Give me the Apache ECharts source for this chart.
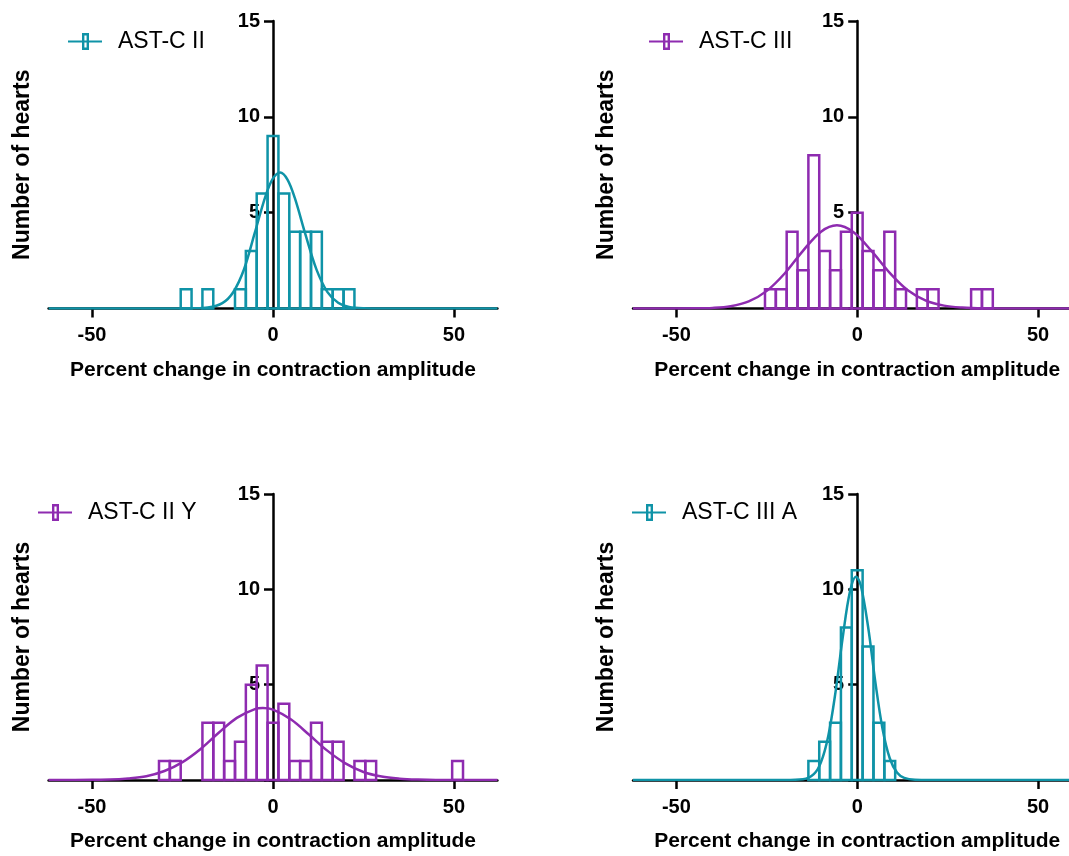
<!DOCTYPE html>
<html>
<head>
<meta charset="utf-8">
<script src="https://cdn.jsdelivr.net/npm/echarts@6/dist/echarts.min.js"></script>
<style>
  html, body { margin: 0; padding: 0; background: #fff; }
  #chart { width: 1069px; height: 856px; }
</style>
</head>
<body>
<div id="chart"></div>
<script>
const TEAL = '#0f93a7';
const PURPLE = '#8e2bb0';
const FONT = 'Liberation Sans, Arial, Helvetica, sans-serif';

const groupNames = ['AST-C II', 'AST-C III', 'AST-C II Y', 'AST-C III A'];
const groupColors = [TEAL, PURPLE, PURPLE, TEAL];
const binWidth = 3;
const xTicks = [-50, 0, 50];

// histogram bins (bin centre) and counts
const astC2Bins = [-24, -18, -9, -6, -3, 0, 3, 6, 9, 12, 15, 18, 21];
const astC2Counts = [1, 1, 1, 3, 6, 9, 6, 4, 4, 4, 1, 1, 1];

const astC3Bins = [-24, -21, -18, -15, -12, -9, -6, -3, 0, 3, 6, 9, 12, 18, 21, 33, 36];
const astC3Counts = [1, 1, 4, 2, 8, 3, 2, 4, 5, 3, 2, 4, 1, 1, 1, 1, 1];

const astC2YBins = [-30, -27, -18, -15, -12, -9, -6, -3, 0, 3, 6, 9, 12, 15, 18, 24, 27, 51];
const astC2YCounts = [1, 1, 3, 3, 1, 2, 5, 6, 3, 4, 1, 1, 3, 2, 2, 1, 1, 1];

const astC3ABins = [-12, -9, -6, -3, 0, 3, 6, 9];
const astC3ACounts = [1, 2, 3, 8, 11, 7, 3, 1];

// Gaussian fit curves
const astC2FitX = [-62, -30, -22, -18, -14, -11, -8, -5, -2, 0, 2, 4, 6, 9, 12, 15, 18, 21, 25, 30, 62];
const astC2FitY = [0, 0, 0.01, 0.05, 0.28, 0.85, 2.05, 3.97, 5.9, 6.79, 7.1, 6.73, 5.78, 3.84, 2.04, 0.87, 0.3, 0.08, 0.01, 0, 0];

const astC3FitX = [-62, -45, -40, -35, -30, -25, -20, -15, -10, -5.6, -1, 4, 9, 14, 19, 24, 29, 35, 45, 62];
const astC3FitY = [0, 0.01, 0.03, 0.12, 0.37, 0.92, 1.84, 3.01, 4.01, 4.34, 3.98, 2.99, 1.86, 0.95, 0.41, 0.15, 0.05, 0.01, 0, 0];

const astC2YFitX = [-62, -50, -45, -40, -35, -30, -25, -20, -15, -10, -5, -2.8, 0, 5, 10, 15, 20, 25, 30, 35, 40, 45, 62];
const astC2YFitY = [0, 0.01, 0.02, 0.08, 0.2, 0.47, 0.94, 1.63, 2.48, 3.26, 3.72, 3.77, 3.69, 3.17, 2.37, 1.54, 0.87, 0.42, 0.18, 0.07, 0.02, 0, 0];

const astC3AFitX = [-62, -20, -15, -12, -10, -8, -6, -4, -2, -0.3, 1, 3, 5, 7, 9, 11, 13, 16, 20, 62];
const astC3AFitY = [0, 0, 0.04, 0.31, 0.94, 2.31, 4.61, 7.48, 9.89, 10.66, 10.2, 8.05, 5.16, 2.69, 1.14, 0.39, 0.11, 0.01, 0, 0];

const binSets = [
  [astC2Bins, astC2Counts],
  [astC3Bins, astC3Counts],
  [astC2YBins, astC2YCounts],
  [astC3ABins, astC3ACounts]
];
const fitSets = [
  [astC2FitX, astC2FitY],
  [astC3FitX, astC3FitY],
  [astC2YFitX, astC2YFitY],
  [astC3AFitX, astC3AFitY]
];

const grids = [
  { left: 48.6, top: 21, width: 448.8, height: 287.5 },
  { left: 633, top: 21, width: 448.4, height: 287.5 },
  { left: 48.6, top: 494, width: 448.8, height: 286 },
  { left: 633, top: 494, width: 448.4, height: 286 }
];
const legendPos = [
  { left: 63, top: 25 },
  { left: 644, top: 25 },
  { left: 33, top: 496 },
  { left: 627, top: 496 }
];

// line with an open box in the middle, like the bar legend glyph
const LEGEND_ICON = 'path://M0 7.6L34 7.6L34 9.4L0 9.4Z M14 0L21 0L21 17L14 17Z M16.4 2.4L16.4 14.6L18.6 14.6L18.6 2.4Z';

const axisLine = { color: '#000', width: 2.5 };

function barRenderer(color) {
  return function (params, api) {
    const x = api.value(0);
    const n = api.value(1);
    const p0 = api.coord([x - binWidth / 2, n]);
    const p1 = api.coord([x + binWidth / 2, 0]);
    return {
      type: 'rect',
      shape: { x: p0[0], y: p0[1], width: p1[0] - p0[0], height: p1[1] - p0[1] },
      style: { fill: 'none', stroke: color, lineWidth: 2.5 }
    };
  };
}

const xAxes = [], yAxes = [], series = [], legends = [];
groupNames.forEach((name, i) => {
  const color = groupColors[i];
  xAxes.push({
    gridIndex: i, type: 'value', min: -62, max: 62,
    axisLine: { show: true, onZero: false, lineStyle: axisLine },
    axisTick: { show: true, length: 9, lineStyle: axisLine, customValues: xTicks },
    axisLabel: { customValues: xTicks, fontSize: 20, fontWeight: 'bold', color: '#000', margin: 17, fontFamily: FONT },
    splitLine: { show: false },
    name: 'Percent change in contraction amplitude',
    nameLocation: 'middle', nameGap: 51,
    nameTextStyle: { fontSize: 21, fontWeight: 'bold', color: '#000', fontFamily: FONT }
  });
  // y axis sits at x = 0, i.e. the middle of the symmetric x range
  yAxes.push({
    gridIndex: i, type: 'value', min: 0, max: 15, interval: 5,
    position: 'left', offset: -grids[i].width / 2,
    axisLine: { show: true, onZero: false, lineStyle: axisLine },
    axisTick: { show: true, length: 9, lineStyle: axisLine },
    axisLabel: {
      formatter: v => (v === 0 ? '' : String(v)),
      fontSize: 20, fontWeight: 'bold', color: '#000', margin: 13, fontFamily: FONT
    },
    splitLine: { show: false },
    name: 'Number of hearts',
    nameLocation: 'middle', nameGap: 239,
    nameTextStyle: { fontSize: 23, fontWeight: 'bold', color: '#000', fontFamily: FONT }
  });
  const [bins, counts] = binSets[i];
  series.push({
    name: name, type: 'custom', xAxisIndex: i, yAxisIndex: i, z: 2,
    itemStyle: { color: color },
    renderItem: barRenderer(color),
    data: bins.map((b, k) => [b, counts[k]])
  });
  const [fx, fy] = fitSets[i];
  series.push({
    name: name + ' fit', type: 'line', xAxisIndex: i, yAxisIndex: i, z: 3,
    smooth: 0.35, showSymbol: false, silent: true,
    lineStyle: { color: color, width: 2.5 },
    data: fx.map((x, k) => [x, fy[k]])
  });
  legends.push({
    data: [{ name: name, icon: LEGEND_ICON }],
    left: legendPos[i].left, top: legendPos[i].top,
    itemWidth: 34, itemHeight: 17, selectedMode: false,
    itemStyle: { color: color },
    textStyle: { fontSize: 23, color: '#000', fontFamily: FONT, padding: [0, 0, 0, 11] }
  });
});

const chart = echarts.init(document.getElementById('chart'));
chart.setOption({
  backgroundColor: '#fff',
  animation: false,
  grid: grids.map(g => Object.assign({ containLabel: false, outerBoundsMode: 'none' }, g)),
  xAxis: xAxes,
  yAxis: yAxes,
  legend: legends,
  series: series
});
</script>
</body>
</html>
